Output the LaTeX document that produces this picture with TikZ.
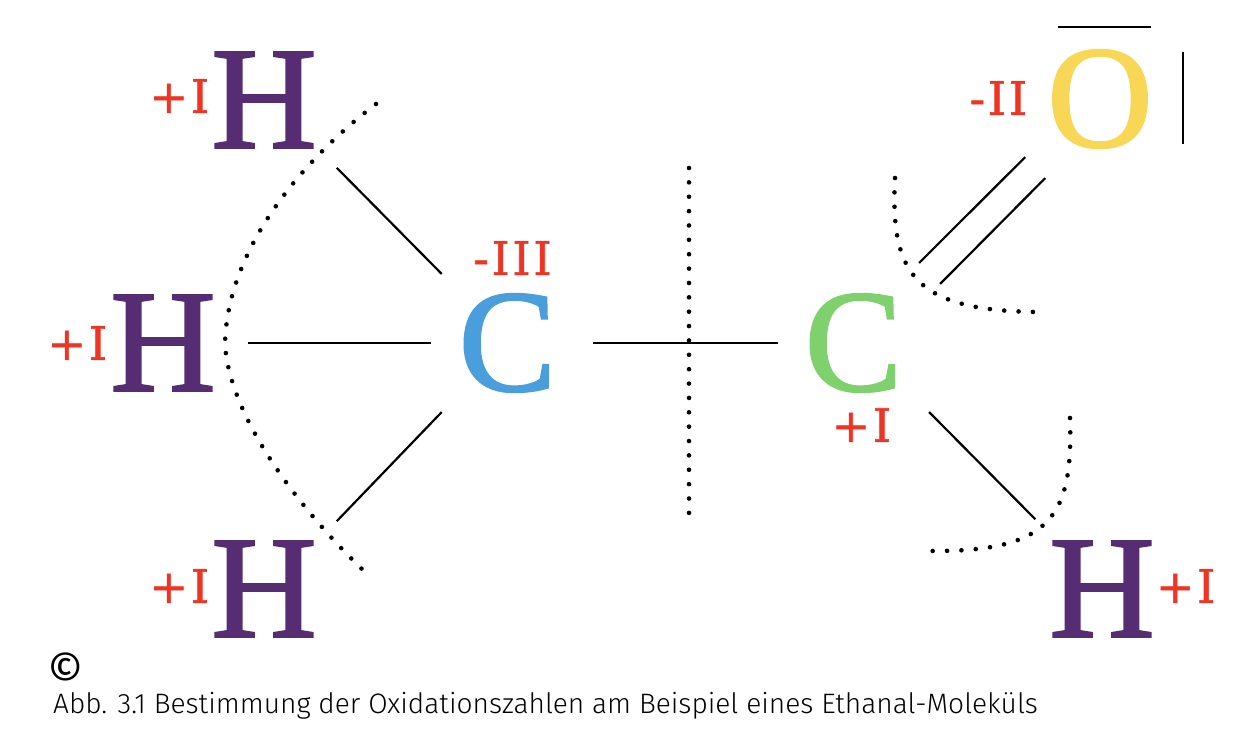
\documentclass[tikz,border=0pt]{standalone}
\usepackage{fontspec}
\usetikzlibrary{positioning}
\setmainfont{Fira Sans Light}
\newfontfamily\copyfont{Fira Sans}
\newfontfamily\atomfont[FakeBold=1.6]{Liberation Serif}
\newfontfamily\oxfont[FakeBold=1.2,LetterSpace=6]{DejaVu Serif}
\definecolor{hcol}{HTML}{562C73}
\definecolor{cblue}{HTML}{4A9EDB}
\definecolor{cgreen}{HTML}{7FD16E}
\definecolor{ocol}{HTML}{F8D757}
\definecolor{oxred}{HTML}{EE3524}
\tikzset{
  atom/.style={font=\atomfont\fontsize{146}{146}\selectfont,inner sep=0pt,outer sep=20pt},
  oxnum/.style={font=\oxfont\fontsize{46}{46}\selectfont,text=oxred,inner sep=0pt},
  bond/.style={line width=2.2pt},
  cutline/.style={line width=4.6pt,line cap=round,dash pattern=on 0pt off 14.37pt}
}
\begin{document}
\begin{tikzpicture}[x=1pt,y=-1pt]
\useasboundingbox (0,0) rectangle (1246,742);
% atoms
\node[atom,text=hcol] (hM) at (163,343) {H};
\node[atom,text=hcol] (hT) at (264,100) {H};
\node[atom,text=hcol] (hB) at (264,589) {H};
\node[atom,text=cblue,right=203pt of hM] (cL) {C};
\node[atom,text=cgreen,right=208.6pt of cL] (cR) {C};
\node[atom,text=ocol] (oxy) at (1100,99) {O};
\node[atom,text=hcol] (hR) at (1102,589) {H};
% oxidation numbers
\node[oxnum,left=-18pt of hT,yshift=4pt] (nT) {+I};
\node[oxnum,left=-17pt of hM] (nM) {+I};
\node[oxnum,left=-18pt of hB,yshift=3pt] (nB) {+I};
\node[oxnum,above=-1pt of cL,xshift=5pt] (nC) {-III};
\node[oxnum,below=-1pt of cR,xshift=8pt,yshift=3pt] (nD) {+I};
\node[oxnum,left=0pt of oxy,yshift=1pt] (nO) {-II};
\node[oxnum,right=-19pt of hR,yshift=3pt] (nR) {+I};
% bonds
\draw[bond] (hT.south east) -- ([xshift=3pt]cL.north west);
\draw[bond] (hB.north east) -- ([xshift=3pt]cL.south west);
\draw[bond,shorten <=12pt,shorten >=8pt] (hM.east) -- (cL.west);
\draw[bond,shorten <=17pt,shorten >=7pt] (cL.east) -- (cR.west);
\draw[bond] ([xshift=7pt]cR.south east) -- ([shift={(6,-2)}]hR.north west);
\draw[bond] ([shift={(-3,-11)}]cR.north east) -- ([shift={(-2,-11)}]oxy.south west);
\draw[bond] ([shift={(18,10)}]cR.north east) -- ([shift={(18,10)}]oxy.south west);
% free electron pairs
\draw[bond] ([shift={(31,-3)}]oxy.north west) -- ([shift={(-22,-3)}]oxy.north east);
\draw[bond] ([shift={(10,-116)}]oxy.south east) -- ([shift={(10,-24)}]oxy.south east);
% cuts
\draw[cutline] (376,104) .. controls (315,150) and (228,240) .. (225,343) .. controls (228,410) and (290,500) .. (365,572);
\draw[cutline] (689,168) -- (689,514);
\draw[cutline] (895,178) .. controls (890,275) and (915,310) .. (1036,312);
\draw[cutline] (1070,418) .. controls (1073,515) and (1053,552) .. (930,551);
% caption
\node[font=\copyfont\fontsize{45}{45}\selectfont,inner sep=0pt] (copy) at (66,670) {©};
\node[font=\fontsize{28.1}{28.1}\selectfont,inner sep=0pt,anchor=base west] (cap) at (53,713) {Abb. 3.1 Bestimmung der Oxidationszahlen am Beispiel eines Ethanal-Moleküls};
\end{tikzpicture}
\end{document}
